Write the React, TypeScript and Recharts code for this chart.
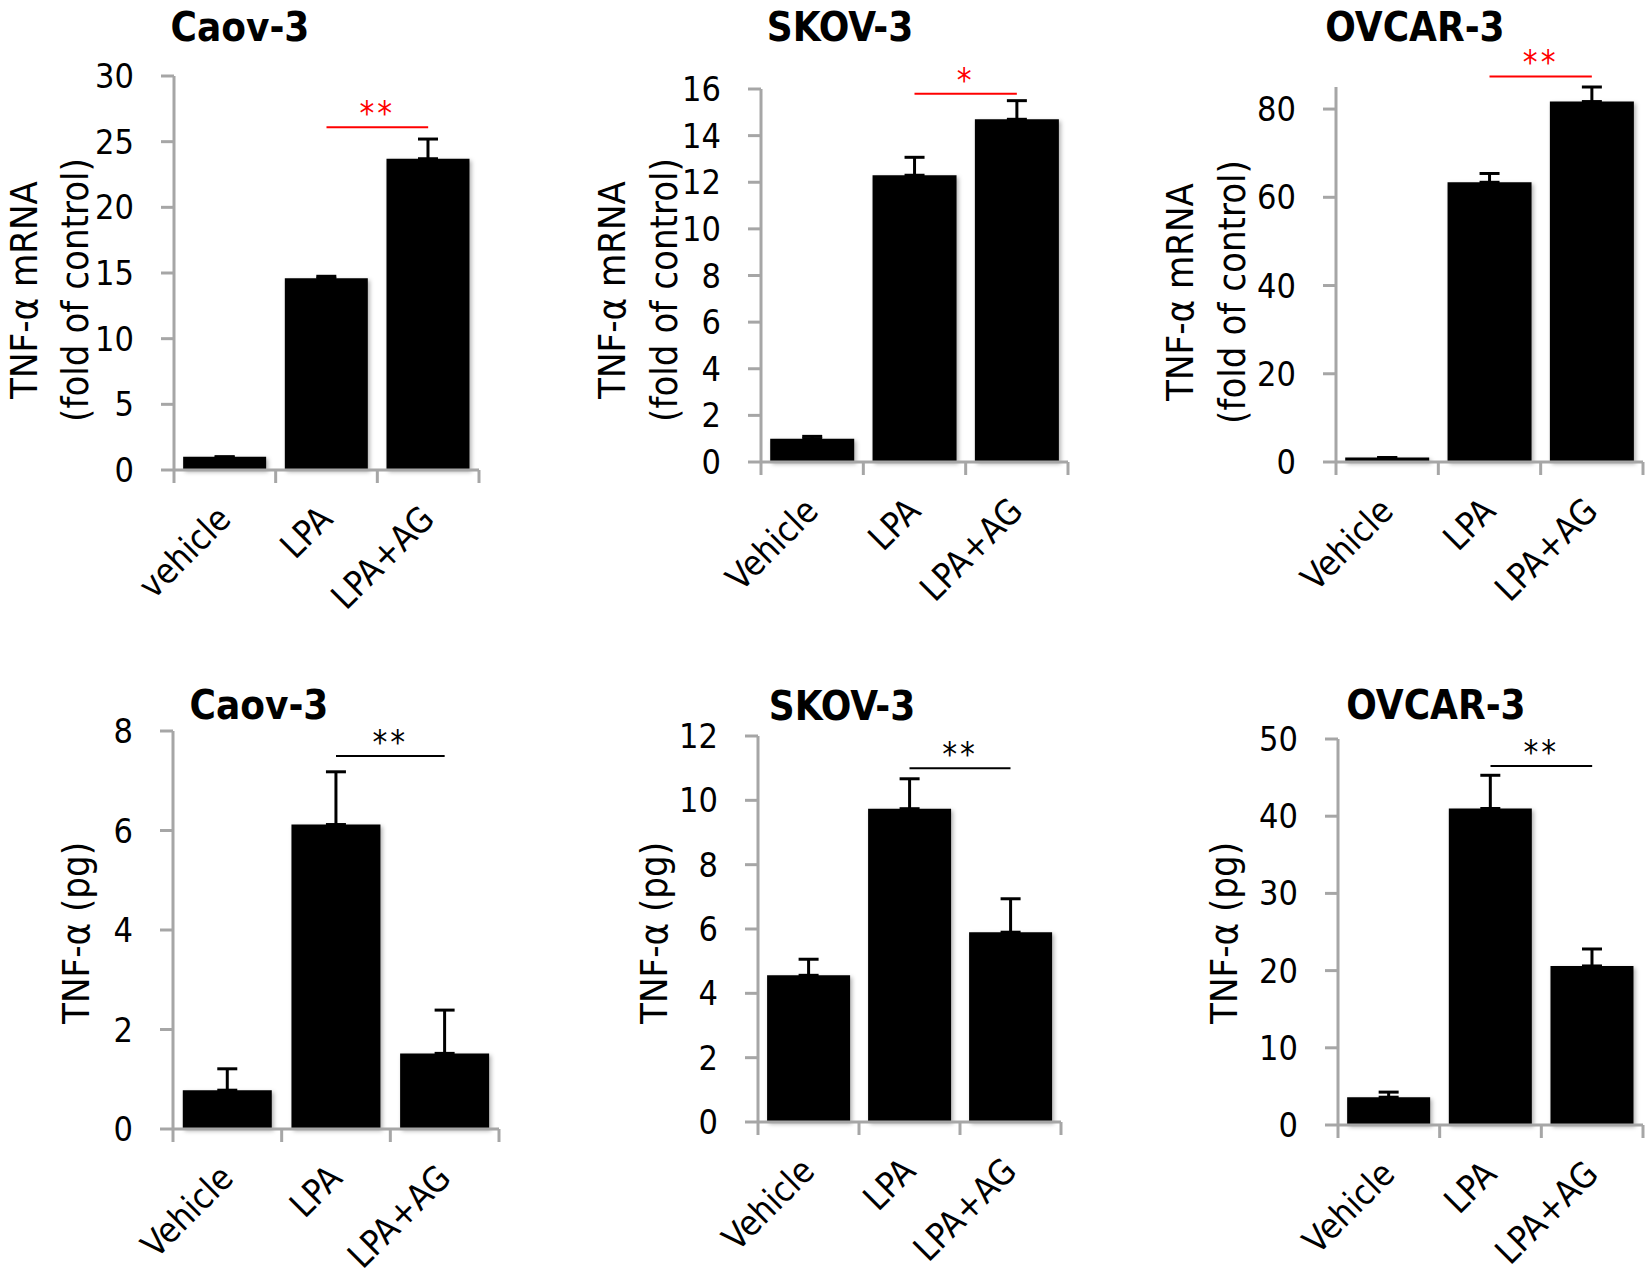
import { BarChart, Bar, XAxis, YAxis, ErrorBar, ReferenceLine } from 'recharts'

const FONT = "'DejaVu Sans Condensed', 'DejaVu Sans', sans-serif"
const AXIS = '#a6a6a6'

const groupsLower = ['vehicle', 'LPA', 'LPA+AG']
const groups = ['Vehicle', 'LPA', 'LPA+AG']

// TNF-α mRNA, fold of control
const caovMrna = [1.0, 14.6, 23.7]
const caovMrnaErr = [0, 0.15, 1.5]
const skovMrna = [1.0, 12.3, 14.7]
const skovMrnaErr = [0.1, 0.77, 0.8]
const ovcarMrna = [1.0, 63.4, 81.7]
const ovcarMrnaErr = [0, 2.0, 3.3]

// TNF-α protein, pg
const caovPg = [0.78, 6.12, 1.52]
const caovPgErr = [0.43, 1.06, 0.87]
const skovPg = [4.56, 9.74, 5.9]
const skovPgErr = [0.5, 0.93, 1.04]
const ovcarPg = [3.6, 41.0, 20.6]
const ovcarPgErr = [0.66, 4.3, 2.2]

const ticksCaovMrna = [0, 5, 10, 15, 20, 25, 30]
const ticksSkovMrna = [0, 2, 4, 6, 8, 10, 12, 14, 16]
const ticksOvcarMrna = [0, 20, 40, 60, 80]
const ticksCaovPg = [0, 2, 4, 6, 8]
const ticksSkovPg = [0, 2, 4, 6, 8, 10, 12]
const ticksOvcarPg = [0, 10, 20, 30, 40, 50]

// significance bar between LPA and LPA+AG
const sigLevel = [26.1, 15.8, 87.4, 7.5, 11.0, 46.5]
const sigMark = ['**', '*', '**', '**', '**', '**']

const mrnaLabel = ['TNF-\u03b1 mRNA', '(fold of control)']
const pgLabel = ['TNF-\u03b1 (pg)']

const panels = [
  {
    title: 'Caov-3', cats: groupsLower, values: caovMrna, errs: caovMrnaErr, ticks: ticksCaovMrna, max: 30,
    sig: sigLevel[0], mark: sigMark[0], sigColor: '#ff0000', label: mrnaLabel,
    box: { x: 0, y: 0, w: 560, h: 640 }, plot: { l: 174, t: 76, r: 479, b: 470 },
    titleAt: [240, 41], labelX: [37, 88], labelY: 290,
  },
  {
    title: 'SKOV-3', cats: groups, values: skovMrna, errs: skovMrnaErr, ticks: ticksSkovMrna, max: 16,
    sig: sigLevel[1], mark: sigMark[1], sigColor: '#ff0000', label: mrnaLabel,
    box: { x: 560, y: 0, w: 540, h: 640 }, plot: { l: 761, t: 89, r: 1068, b: 462 },
    titleAt: [840, 41], labelX: [625, 677], labelY: 290,
  },
  {
    title: 'OVCAR-3', cats: groups, values: ovcarMrna, errs: ovcarMrnaErr, ticks: ticksOvcarMrna, max: 85,
    sig: sigLevel[2], mark: sigMark[2], sigColor: '#ff0000', label: mrnaLabel,
    box: { x: 1100, y: 0, w: 546, h: 640 }, plot: { l: 1336, t: 87, r: 1643, b: 462 },
    titleAt: [1415, 41], labelX: [1193, 1245], labelY: 292,
  },
  {
    title: 'Caov-3', cats: groups, values: caovPg, errs: caovPgErr, ticks: ticksCaovPg, max: 8,
    sig: sigLevel[3], mark: sigMark[3], sigColor: '#000000', label: pgLabel,
    box: { x: 0, y: 640, w: 560, h: 637 }, plot: { l: 173, t: 731, r: 499, b: 1129 },
    titleAt: [259, 719], labelX: [89], labelY: 933,
  },
  {
    title: 'SKOV-3', cats: groups, values: skovPg, errs: skovPgErr, ticks: ticksSkovPg, max: 12,
    sig: sigLevel[4], mark: sigMark[4], sigColor: '#000000', label: pgLabel,
    box: { x: 560, y: 640, w: 540, h: 637 }, plot: { l: 758, t: 736, r: 1061, b: 1122 },
    titleAt: [842, 720], labelX: [667], labelY: 933,
  },
  {
    title: 'OVCAR-3', cats: groups, values: ovcarPg, errs: ovcarPgErr, ticks: ticksOvcarPg, max: 50,
    sig: sigLevel[5], mark: sigMark[5], sigColor: '#000000', label: pgLabel,
    box: { x: 1100, y: 640, w: 546, h: 637 }, plot: { l: 1338, t: 739, r: 1643, b: 1125 },
    titleAt: [1436, 719], labelX: [1237], labelY: 933,
  },
]

function Panel({ p }: { p: any }) {
  const { box, plot } = p
  const xH = 140
  const top = plot.t - box.y
  const yW = plot.l - box.x
  const right = box.x + box.w - plot.r
  const bottom = box.y + box.h - plot.b - xH
  const band = (plot.r - plot.l) / 3
  const data = p.cats.map((c: string, i: number) => ({ name: c, value: p.values[i], err: [0, p.errs[i]] }))

  const catTick = (props: any) => {
    const { x, y, payload, index } = props
    const ax = x + 8
    const ay = y + 51
    return (
      <g>
        <line x1={x - band / 2} y1={y} x2={x - band / 2} y2={y + 13} stroke={AXIS} strokeWidth={3} />
        {index === 2 && <line x1={x + band / 2} y1={y} x2={x + band / 2} y2={y + 13} stroke={AXIS} strokeWidth={3} />}
        <text x={ax} y={ay} textAnchor="end" transform={`rotate(-45, ${ax}, ${ay})`} fontSize={35} fontFamily={FONT} fill="#000">
          {payload.value}
        </text>
      </g>
    )
  }

  return (
    <div style={{ position: 'absolute', left: box.x, top: box.y, width: box.w, height: box.h }}>
      <BarChart width={box.w} height={box.h} data={data} margin={{ top, right, bottom, left: 0 }} barCategoryGap="9%">
        <XAxis
          dataKey="name"
          height={xH}
          interval={0}
          axisLine={{ stroke: AXIS, strokeWidth: 3 }}
          tickLine={false}
          tickSize={0}
          tickMargin={0}
          tick={catTick}
        />
        <YAxis
          width={yW}
          type="number"
          domain={[0, p.max]}
          ticks={p.ticks}
          interval={0}
          axisLine={{ stroke: AXIS, strokeWidth: 3 }}
          tickLine={{ stroke: AXIS, strokeWidth: 3 }}
          tickSize={13}
          tickMargin={27}
          tick={{ fill: '#000', fontSize: 34, fontFamily: FONT }}
        />
        <Bar dataKey="value" fill="#000" isAnimationActive={false}>
          <ErrorBar dataKey="err" direction="y" width={10} stroke="#000" strokeWidth={3} />
        </Bar>
        <ReferenceLine
          segment={[{ x: p.cats[1], y: p.sig }, { x: p.cats[2], y: p.sig }]}
          stroke={p.sigColor}
          strokeWidth={2}
          ifOverflow="visible"
          label={{ value: p.mark, position: 'top', offset: 2, fill: p.sigColor, fontSize: 33, fontFamily: FONT, letterSpacing: 3 }}
        />
      </BarChart>
      <svg width={box.w} height={box.h} style={{ position: 'absolute', left: 0, top: 0, pointerEvents: 'none' }}>
        <text x={p.titleAt[0] - box.x} y={p.titleAt[1] - box.y} textAnchor="middle" fontSize={40} fontWeight="bold" fontFamily={FONT} fill="#000">
          {p.title}
        </text>
        {p.label.map((line: string, i: number) => (
          <text
            key={i}
            x={0}
            y={0}
            transform={`translate(${p.labelX[i] - box.x}, ${p.labelY - box.y}) rotate(-90)`}
            textAnchor="middle"
            fontSize={38}
            fontFamily={FONT}
            fill="#000"
          >
            {line}
          </text>
        ))}
      </svg>
    </div>
  )
}

export default function App() {
  return (
    <div style={{ position: 'absolute', left: 0, top: 0, width: 1646, height: 1277, background: '#fff', overflow: 'hidden' }}>
      <style>{`.recharts-bar-rectangle path { filter: drop-shadow(2px 2px 2px rgba(0,0,0,0.3)); }`}</style>
      {panels.map((p, i) => (
        <Panel key={i} p={p} />
      ))}
    </div>
  )
}
